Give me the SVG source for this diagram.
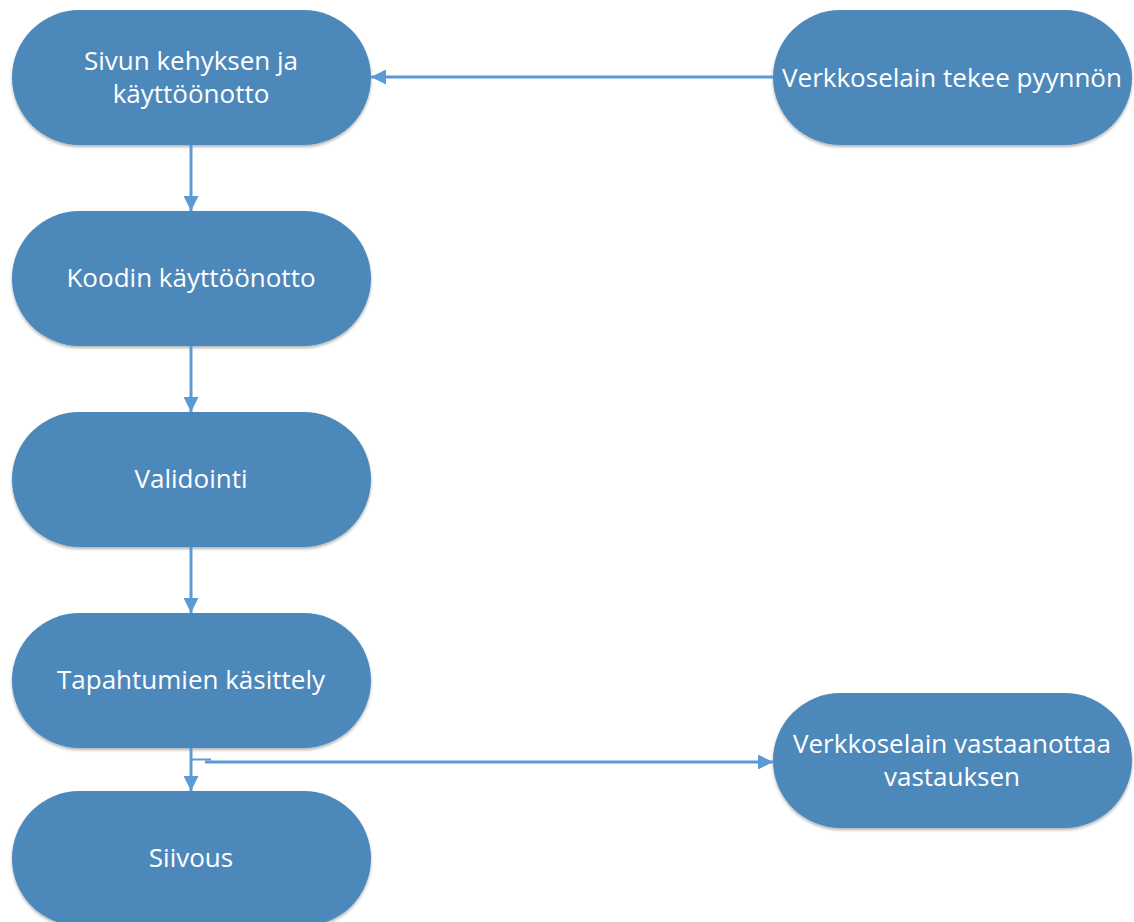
<svg xmlns="http://www.w3.org/2000/svg" width="1134" height="922" viewBox="0 0 1134 922">
<defs>
<style>
.n{fill:#4e88bb;}
.t{font-family:"Open Sans","Noto Sans",sans-serif;font-size:26px;fill:#ffffff;text-anchor:middle;}
.c{stroke:#5b9bd5;stroke-width:3;fill:none;}
</style>
<marker id="ah" viewBox="0 0 10 10" refX="10" refY="5" markerWidth="5" markerHeight="5" markerUnits="strokeWidth" orient="auto">
<path d="M0,0 L10,5 L0,10 z" fill="#5b9bd5"/>
</marker>
<filter id="sh" x="-5%" y="-5%" width="110%" height="115%">
<feGaussianBlur in="SourceAlpha" stdDeviation="1.5"/>
<feOffset dx="0" dy="1.5"/>
<feComponentTransfer><feFuncA type="linear" slope="0.3"/></feComponentTransfer>
<feMerge><feMergeNode/><feMergeNode in="SourceGraphic"/></feMerge>
</filter>
</defs>
<rect width="1134" height="922" fill="#ffffff"/>
<g id="n1"><rect class="n" filter="url(#sh)" x="12" y="10" width="359" height="135" rx="67.5" ry="67.5"/><text class="t" x="191" y="70">Sivun kehyksen ja</text><text class="t" x="191" y="103">käyttöönotto</text></g>
<g id="n2"><rect class="n" filter="url(#sh)" x="12" y="211" width="359" height="135" rx="67.5" ry="67.5"/><text class="t" x="191" y="287">Koodin käyttöönotto</text></g>
<g id="n3"><rect class="n" filter="url(#sh)" x="12" y="412" width="359" height="135" rx="67.5" ry="67.5"/><text class="t" x="191" y="488">Validointi</text></g>
<g id="n4"><rect class="n" filter="url(#sh)" x="12" y="613" width="359" height="135" rx="67.5" ry="67.5"/><text class="t" x="191" y="689">Tapahtumien käsittely</text></g>
<g id="n5"><rect class="n" filter="url(#sh)" x="12" y="791" width="359" height="135" rx="67.5" ry="67.5"/><text class="t" x="191" y="867">Siivous</text></g>
<g id="n6"><rect class="n" filter="url(#sh)" x="773" y="10" width="359" height="135" rx="67.5" ry="67.5"/><text class="t" x="952" y="87">Verkkoselain tekee pyynnön</text></g>
<g id="n7"><rect class="n" filter="url(#sh)" x="773" y="693" width="359" height="135" rx="67.5" ry="67.5"/><text class="t" x="952" y="753">Verkkoselain vastaanottaa</text><text class="t" x="952" y="786">vastauksen</text></g>
<g id="connectors">
<path class="c" marker-end="url(#ah)" d="M773,77 H371"/>
<path class="c" marker-end="url(#ah)" d="M191,145 V211"/>
<path class="c" marker-end="url(#ah)" d="M191,346 V412"/>
<path class="c" marker-end="url(#ah)" d="M191,547 V613"/>
<path class="c" marker-end="url(#ah)" d="M191,748 V791"/>
<path class="c" style="stroke-width:2" d="M191,759.5 H211"/>
<path class="c" marker-end="url(#ah)" d="M205,762 H773"/>
</g>
</svg>
